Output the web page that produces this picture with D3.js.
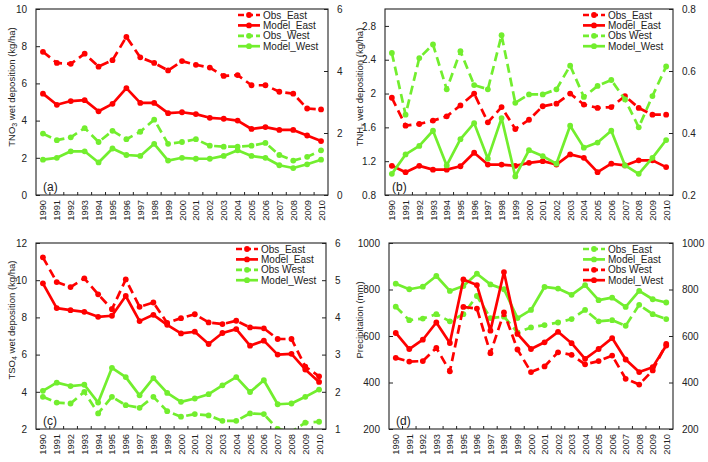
<!DOCTYPE html>
<html>
<head>
<meta charset="utf-8">
<script src="https://cdn.jsdelivr.net/npm/d3@7"></script>
<style>
  html, body { margin: 0; padding: 0; background: #fff; }
  svg { display: block; font-family: "Liberation Sans", Arial, sans-serif; }
</style>
</head>
<body>
<svg id="chart" width="708" height="462"></svg>
<script>
// ---------------- DATA ----------------
const years = ["1990","1991","1992","1993","1994","1995","1996","1997","1998","1999","2000",
               "2001","2002","2003","2004","2005","2006","2007","2008","2009","2010"];

// (a) TNO3 wet deposition (kg/ha)
const no3ObsEast   = [7.7,7.1,7.05,7.6,6.9,7.25,8.5,7.4,7.1,6.7,7.2,7.0,6.85,6.4,6.45,5.9,5.9,5.55,5.45,4.65,4.6];
const no3ModelEast = [5.45,4.85,5.05,5.1,4.5,4.9,5.75,4.95,4.95,4.4,4.45,4.35,4.15,4.1,4.0,3.55,3.65,3.5,3.5,3.2,2.9];
const no3ObsWest   = [3.3,2.95,3.1,3.6,2.85,3.45,3.0,3.4,4.05,2.75,2.85,3.0,2.65,2.6,2.6,2.65,2.8,2.15,1.85,2.05,2.4];
const no3ModelWest = [1.9,2.0,2.35,2.35,1.75,2.5,2.15,2.1,2.75,1.85,2.0,1.95,1.95,2.1,2.4,2.1,2.0,1.6,1.45,1.65,1.9];

// (b) TNHx wet deposition (kg/ha)
const nhxObsEast   = [1.95,1.62,1.64,1.68,1.73,1.86,2.0,1.66,1.84,1.58,1.69,1.85,1.88,2.0,1.87,1.83,1.84,1.97,1.83,1.75,1.75];
const nhxModelEast = [1.145,1.07,1.145,1.1,1.1,1.14,1.3,1.16,1.16,1.145,1.18,1.2,1.16,1.28,1.24,1.07,1.17,1.15,1.21,1.21,1.13];
const nhxObsWest   = [2.48,1.75,2.42,2.58,2.05,2.5,2.1,2.05,2.69,1.89,1.99,1.99,2.05,2.33,1.96,2.09,2.16,1.93,1.6,1.97,2.32];
const nhxModelWest = [1.05,1.28,1.38,1.56,1.15,1.46,1.65,1.23,1.71,1.02,1.33,1.26,1.17,1.62,1.36,1.42,1.56,1.15,1.05,1.24,1.45];

// (c) TSO4 wet deposition (kg/ha)
const so4ObsEast   = [11.23,9.9,9.63,10.1,9.24,8.44,10.04,8.57,8.8,7.7,7.96,8.17,7.73,7.64,7.82,7.46,7.41,6.84,6.84,5.35,4.83];
const so4ModelEast = [9.83,8.5,8.39,8.3,8.03,8.09,9.15,7.8,8.14,7.6,7.14,7.23,6.57,7.16,7.37,6.48,6.75,6.0,6.04,5.2,4.53];
const so4ObsWest   = [3.73,3.42,3.37,4.0,2.84,3.73,3.28,3.14,3.73,2.96,2.66,2.8,2.73,2.44,2.44,2.84,2.8,2.0,1.85,2.34,2.39];
const so4ModelWest = [4.05,4.49,4.31,4.38,3.42,5.29,4.79,3.81,4.74,3.94,3.46,3.64,3.87,4.35,4.79,3.99,4.62,3.33,3.37,3.73,4.12];

// (d) Precipitation (mm)
const preObsEast   = [726,668,675,694,663,694,772,677,683,616,637,647,658,673,712,663,668,644,734,694,673];
const preModelEast = [825,801,812,858,794,815,868,822,801,677,712,811,804,777,819,754,765,725,794,758,744];
const preObsWest   = [506,490,492,549,448,725,718,526,701,542,445,469,530,519,478,492,516,416,391,452,566];
const preModelWest = [613,544,584,658,570,843,819,623,875,609,544,573,618,569,502,544,591,499,445,466,559];

// tick labels
const ticksA = [0,2,4,6,8,10],      ticksAR = [0,2,4,6];
const ticksB = [0.8,1.2,1.6,2.0,2.4,2.8], ticksBR = [0.2,0.4,0.6,0.8];
const ticksC = [2,4,6,8,10,12],     ticksCR = [1,2,3,4,5,6];
const ticksD = [200,400,600,800,1000], ticksDR = [200,400,600,800,1000];

const namesA = ["Obs_East","Model_East","Obs_West","Model_West"];
const namesB = ["Obs_East","Model_East","Obs West","Model_West"];
const namesC = ["Obs_East","Model_East","Obs West","Model_West"];
const namesD = ["Obs_East","Model_East","Obs West","Model_West"];

// ---------------- STYLE ----------------
const RED = "#ff0000", GREEN = "#72ee2e";

const panels = [
  { tag:"(a)", box:{l:36,t:9,r:328,b:195}, dom:[0,10], rdom:[0,6], ticks:ticksA, rticks:ticksAR,
    title:["TNO","3"," wet deposition (kg/ha)"], titleX:11, titleY:87,
    series:[ {n:namesA[0], v:no3ObsEast, c:RED, d:true}, {n:namesA[1], v:no3ModelEast, c:RED, d:false},
             {n:namesA[2], v:no3ObsWest, c:GREEN, d:true}, {n:namesA[3], v:no3ModelWest, c:GREEN, d:false} ] },
  { tag:"(b)", box:{l:385,t:9,r:673,b:195}, dom:[0.8,3.0], rdom:[0.2,0.8], ticks:ticksB, rticks:ticksBR,
    title:["TNH","x"," wet deposition (kg/ha)"], titleX:359, titleY:87,
    series:[ {n:namesB[0], v:nhxObsEast, c:RED, d:true}, {n:namesB[1], v:nhxModelEast, c:RED, d:false},
             {n:namesB[2], v:nhxObsWest, c:GREEN, d:true}, {n:namesB[3], v:nhxModelWest, c:GREEN, d:false} ] },
  { tag:"(c)", box:{l:36,t:243,r:326,b:429}, dom:[2,12], rdom:[1,6], ticks:ticksC, rticks:ticksCR,
    title:["TSO","4"," wet deposition (kg/ha)"], titleX:11, titleY:320,
    series:[ {n:namesC[0], v:so4ObsEast, c:RED, d:true}, {n:namesC[1], v:so4ModelEast, c:RED, d:false},
             {n:namesC[2], v:so4ObsWest, c:GREEN, d:true}, {n:namesC[3], v:so4ModelWest, c:GREEN, d:false} ] },
  { tag:"(d)", box:{l:389,t:243,r:673,b:429}, dom:[200,1000], rdom:[200,1000], ticks:ticksD, rticks:ticksDR,
    title:["Precipitation (mm)"], titleX:359, titleY:320,
    series:[ {n:namesD[0], v:preObsEast, c:GREEN, d:true}, {n:namesD[1], v:preModelEast, c:GREEN, d:false},
             {n:namesD[2], v:preObsWest, c:RED, d:true}, {n:namesD[3], v:preModelWest, c:RED, d:false} ] }
];

const svg = d3.select("#chart");
const fmt = v => String(+v.toFixed(2));
const R = 2.9, SW = 2.7;

panels.forEach((p, pi) => {
  const B = p.box;
  const g = svg.append("g");
  const x = d3.scaleBand().domain(years).range([B.l, B.r]);
  const y = d3.scaleLinear().domain(p.dom).range([B.b, B.t]);
  const yr = d3.scaleLinear().domain(p.rdom).range([B.b, B.t]);

  const clipId = "clip" + pi;
  svg.append("clipPath").attr("id", clipId).append("rect")
    .attr("x", B.l).attr("y", B.t).attr("width", B.r - B.l).attr("height", B.b - B.t);

  // series
  const plot = g.append("g").attr("clip-path", `url(#${clipId})`);
  const line = d3.line().x((d,i) => x(years[i]) + x.bandwidth()/2).y(d => y(d));
  p.series.forEach(s => {
    plot.append("path").datum(s.v).attr("d", line)
      .attr("fill","none").attr("stroke", s.c).attr("stroke-width", SW)
      .attr("stroke-dasharray", s.d ? "9,5" : null).attr("stroke-linejoin","round");
    plot.selectAll(null).data(s.v).enter().append("circle")
      .attr("cx", (d,i) => x(years[i]) + x.bandwidth()/2).attr("cy", d => y(d))
      .attr("r", R).attr("fill", s.c);
  });

  // frame
  g.append("rect").attr("x", B.l).attr("y", B.t).attr("width", B.r - B.l).attr("height", B.b - B.t)
    .attr("fill","none").attr("stroke","#222").attr("stroke-width",1.1);

  // left axis
  const la = d3.axisLeft(y).tickValues(p.ticks).tickSize(-4).tickPadding(9).tickFormat(fmt);
  const lg = g.append("g").attr("transform", `translate(${B.l},0)`).call(la);
  // right axis
  const ra = d3.axisRight(yr).tickValues(p.rticks).tickSize(-4).tickPadding(9).tickFormat(fmt);
  const rg = g.append("g").attr("transform", `translate(${B.r},0)`).call(ra);
  [lg, rg].forEach(a => {
    a.select(".domain").remove();
    a.selectAll(".tick line").attr("stroke","#222");
    a.selectAll(".tick text").attr("font-size", 10).attr("fill","#222")
      .attr("font-family", '"Liberation Sans", Arial, sans-serif');
  });

  // x axis ticks between categories
  const bounds = years.slice(1).map(yv => x(yv));
  g.selectAll(null).data(bounds).enter().append("line")
    .attr("x1", d => d).attr("x2", d => d).attr("y1", B.b).attr("y2", B.b - 3)
    .attr("stroke","#222").attr("stroke-width",1);
  // year labels
  g.selectAll(null).data(years).enter().append("text")
    .attr("transform", d => `translate(${x(d) + x.bandwidth()/2 + 0.5},${B.b + 5}) rotate(-90)`)
    .attr("text-anchor","end").attr("dominant-baseline","central")
    .attr("font-size", 9.3).attr("fill","#222").text(d => d);

  // y title
  const t = g.append("text")
    .attr("transform", `translate(${p.titleX},${p.titleY}) rotate(-90)`)
    .attr("text-anchor","middle").attr("dominant-baseline","central")
    .attr("font-size", 9.5).attr("fill","#222");
  if (p.title.length === 3) {
    t.append("tspan").text(p.title[0]);
    t.append("tspan").attr("font-size", 7).attr("dy", 2.5).text(p.title[1]);
    t.append("tspan").attr("dy", -2.5).text(p.title[2]);
  } else {
    t.text(p.title[0]);
  }

  // panel tag
  g.append("text").attr("x", B.l + 7).attr("y", B.b - 4)
    .attr("font-size", 12).attr("fill","#222").text(p.tag);

  // legend
  const lgd = g.append("g");
  p.series.forEach((s, i) => {
    const yy = B.t + 6 + i * 10.4;
    const x1 = B.r - 90, x2 = B.r - 68;
    lgd.append("line").attr("x1", x1).attr("x2", x2).attr("y1", yy).attr("y2", yy)
      .attr("stroke", s.c).attr("stroke-width", SW).attr("stroke-dasharray", s.d ? "6,3" : null);
    lgd.append("circle").attr("cx", (x1 + x2)/2).attr("cy", yy).attr("r", R).attr("fill", s.c);
    lgd.append("text").attr("x", B.r - 65).attr("y", yy).attr("dominant-baseline","central")
      .attr("font-size", 10).attr("fill","#222").text(s.n);
  });
});
</script>
</body>
</html>
